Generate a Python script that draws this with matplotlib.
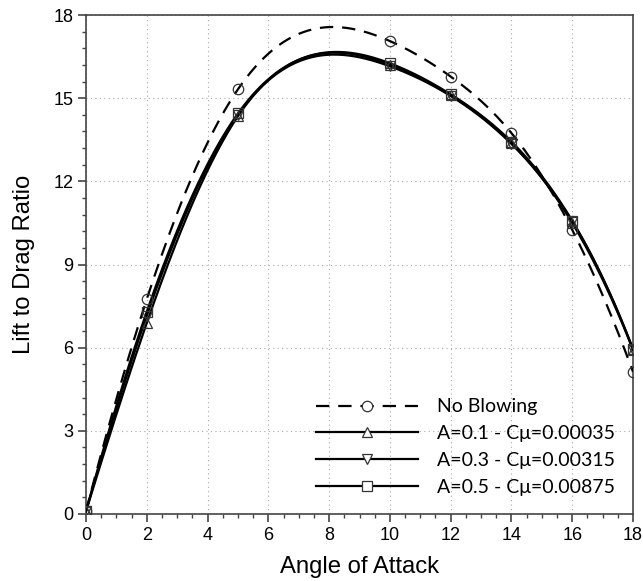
import numpy as np
import matplotlib
matplotlib.use("Agg")
import matplotlib.pyplot as plt
from matplotlib.ticker import MultipleLocator

angles = [0, 2, 5, 10, 12, 14, 16, 18]
no_blowing = [0.1, 7.75, 15.32, 17.06, 15.78, 13.74, 10.25, 5.13]
a01 = [0.1, 6.89, 14.35, 16.20, 15.10, 13.38, 10.50, 5.92]
a03 = [0.1, 7.15, 14.40, 16.15, 15.08, 13.35, 10.55, 5.93]
a05 = [0.1, 7.30, 14.45, 16.26, 15.14, 13.43, 10.58, 5.95]

labels = ["No Blowing", "A=0.1 - C\u03bc=0.00035", "A=0.3 - C\u03bc=0.00315", "A=0.5 - C\u03bc=0.00875"]
series = [no_blowing, a01, a03, a05]
markers = ["o", "^", "v", "s"]
styles = [(0, (6, 4)), "-", "-", "-"]


def notaknot_spline(x, y, xs):
    x = np.asarray(x, float)
    y = np.asarray(y, float)
    n = len(x)
    h = np.diff(x)
    A = np.zeros((n, n))
    b = np.zeros(n)
    A[0, 0] = -1 / h[0]
    A[0, 1] = 1 / h[0] + 1 / h[1]
    A[0, 2] = -1 / h[1]
    A[-1, -3] = -1 / h[-2]
    A[-1, -2] = 1 / h[-2] + 1 / h[-1]
    A[-1, -1] = -1 / h[-1]
    for i in range(1, n - 1):
        A[i, i - 1] = h[i - 1]
        A[i, i] = 2 * (h[i - 1] + h[i])
        A[i, i + 1] = h[i]
        b[i] = 6 * ((y[i + 1] - y[i]) / h[i] - (y[i] - y[i - 1]) / h[i - 1])
    M = np.linalg.solve(A, b)
    idx = np.clip(np.searchsorted(x, xs) - 1, 0, n - 2)
    x0, x1 = x[idx], x[idx + 1]
    hh = x1 - x0
    t0 = x1 - xs
    t1 = xs - x0
    return (M[idx] * t0**3 / (6 * hh) + M[idx + 1] * t1**3 / (6 * hh)
            + (y[idx] / hh - M[idx] * hh / 6) * t0
            + (y[idx + 1] / hh - M[idx + 1] * hh / 6) * t1)


plt.rcParams['font.family'] = ['Liberation Sans', 'DejaVu Sans']
fig = plt.figure(figsize=(6.43, 5.81), dpi=100)
ax = fig.add_axes([86/643, 1-514/581, (633-86)/643, (514-15)/581])

xs = np.linspace(0, 18, 400)
for y, m, ls, lab in zip(series, markers, styles, labels):
    ax.plot(xs, notaknot_spline(angles, y, xs), color='black', lw=1.6, ls=ls, zorder=3)
    ax.plot(angles, y, ls='none', marker=m, ms=7.5, mfc='none', mec='#333333', mew=0.9, zorder=4)
    ax.plot([], [], color='black', lw=1.6, ls=ls, marker=m, ms=7.5, mfc='white', mec='#333333', mew=0.9, label=lab)

ax.set_xlim(0, 18)
ax.set_ylim(0, 18)
ax.xaxis.set_major_locator(MultipleLocator(2))
ax.xaxis.set_minor_locator(MultipleLocator(0.5))
ax.yaxis.set_major_locator(MultipleLocator(3))
ax.yaxis.set_minor_locator(MultipleLocator(0.6))
ax.grid(True, which='major', ls=(0, (1, 3)), color='#aaaaaa', lw=0.8)
ax.set_axisbelow(True)
for s in ax.spines.values():
    s.set_color('#444444')
    s.set_linewidth(1.2)
ax.tick_params(which='major', direction='out', length=6, width=1.2, color='#444444', labelsize=13, pad=3)
ax.tick_params(which='minor', direction='out', length=3, width=1, color='#444444')
ax.set_xlabel("Angle of Attack", fontsize=17.2, labelpad=9)
ax.set_ylabel("Lift to Drag Ratio", fontsize=17.2, labelpad=13)

leg = ax.legend(loc='lower right', frameon=False,
                handlelength=5.25, handletextpad=0.93, labelspacing=0.5,
                prop={'family': ['Lato', 'DejaVu Sans'], 'size': 14}, borderaxespad=0.55)

fig.savefig("out.png", dpi=100)
